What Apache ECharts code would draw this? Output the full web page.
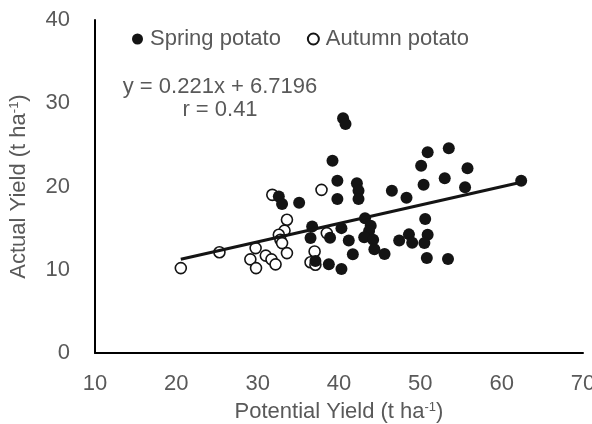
<!DOCTYPE html>
<html>
<head>
<meta charset="utf-8">
<script src="https://cdn.jsdelivr.net/npm/echarts@6/dist/echarts.min.js"></script>
<style>html,body{margin:0;padding:0;background:#fff}#c{width:592px;height:424px}</style>
</head>
<body>
<div id="c"></div>
<script>
var springPotato = [[32.6,18.8],[33.0,17.9],[35.1,18.05],[36.7,15.2],[36.5,13.8],[37.1,11.05],[40.5,28.2],[40.8,27.5],[39.2,23.1],[50.9,24.1],[53.5,24.6],[50.1,22.5],[55.8,22.2],[39.8,20.7],[42.2,20.4],[42.4,19.5],[42.4,18.5],[39.8,18.5],[46.5,19.5],[48.3,18.65],[50.4,20.2],[53.0,21.0],[55.5,19.9],[62.4,20.7],[38.9,13.85],[40.3,15.0],[41.2,13.5],[41.7,11.85],[38.75,10.65],[40.3,10.1],[43.2,16.2],[43.9,15.3],[43.7,14.65],[43.1,13.9],[44.2,13.6],[44.35,12.45],[45.6,11.9],[47.4,13.5],[48.6,14.25],[49.0,13.25],[50.6,16.1],[50.9,14.2],[50.5,13.2],[50.8,11.4],[53.4,11.3]];
var autumnPotato = [[20.55,10.2],[25.3,12.1],[29.75,12.6],[29.1,11.25],[29.8,10.2],[31.0,11.7],[31.7,11.25],[32.2,10.65],[31.8,19.0],[33.6,16.0],[33.3,14.7],[32.6,14.2],[32.8,13.6],[33.0,13.2],[33.6,12.0],[37.85,19.6],[37.0,12.2],[36.5,10.9],[37.1,10.6],[38.5,14.4]];
var slope = 0.221, intercept = 6.7196;
var xTicks = [10,20,30,40,50,60,70];
var yTicks = [0,10,20,30,40];
var equationText = 'y = 0.221x + 6.7196';
var rText = 'r = 0.41';

var allX = springPotato.concat(autumnPotato).map(function(p){return p[0];});
var xMin = Math.min.apply(null, allX), xMax = Math.max.apply(null, allX);
var trend = [[xMin, slope*xMin+intercept],[xMax, slope*xMax+intercept]];

var FONT = 'Liberation Sans';
var GRAY = '#595959';
var FS = 22;
var richName = {a: {fontSize: FS, color: GRAY, fontFamily: FONT}, s: {fontSize: 13, color: GRAY, fontFamily: FONT, verticalAlign: 'top', padding: [0,0,8,0]}};
var chart = echarts.init(document.getElementById('c'));
chart.setOption({
  animation: false,
  textStyle: {fontFamily: FONT},
  grid: {left: 95, right: 9, top: 20, bottom: 71, containLabel: false, outerBoundsMode: 'none'},
  legend: {
    left: 132, top: 28, padding: 0, itemWidth: 11, itemHeight: 11, itemGap: 26,
    icon: 'circle',
    textStyle: {fontFamily: FONT, fontSize: FS, color: GRAY, padding: [0,0,0,2]},
    data: ['Spring potato','Autumn potato']
  },
  xAxis: {
    type: 'value', min: xTicks[0], max: xTicks[xTicks.length-1], interval: 10,
    axisLine: {lineStyle: {color: '#000', width: 2}},
    axisTick: {show: false}, splitLine: {show: false},
    axisLabel: {fontSize: FS, color: GRAY, margin: 20, fontFamily: FONT},
    name: '{a|Potential Yield (t ha}{s|-1}{a|)}', nameLocation: 'middle', nameGap: 48,
    nameTextStyle: {rich: richName}
  },
  yAxis: {
    type: 'value', min: yTicks[0], max: yTicks[yTicks.length-1], interval: 10,
    axisLine: {show: true, lineStyle: {color: '#000', width: 2}},
    axisTick: {show: false}, splitLine: {show: false},
    axisLabel: {fontSize: FS, color: GRAY, margin: 25, fontFamily: FONT},
    name: '{a|Actual Yield (t ha}{s|-1}{a|)}', nameLocation: 'middle', nameGap: 65, nameRotate: 90,
    nameTextStyle: {rich: richName}
  },
  series: [
    {name: 'Spring potato', type: 'scatter', data: springPotato, symbolSize: 12,
     itemStyle: {color: '#141414', opacity: 1}, z: 3},
    {name: 'Autumn potato', type: 'scatter', data: autumnPotato, symbolSize: 11,
     itemStyle: {color: '#fff', borderColor: '#141414', borderWidth: 1.6, opacity: 1}, z: 2},
    {name: 'trend', type: 'line', data: trend, symbol: 'none', lineStyle: {color: '#141414', width: 3}, z: 4, silent: true}
  ],
  graphic: [
    {type: 'text', x: 220, y: 87, style: {text: equationText, font: FS + 'px "Liberation Sans"', fill: GRAY, textAlign: 'center', textVerticalAlign: 'middle'}},
    {type: 'text', x: 220, y: 110, style: {text: rText, font: FS + 'px "Liberation Sans"', fill: GRAY, textAlign: 'center', textVerticalAlign: 'middle'}}
  ]
});
</script>
</body>
</html>
